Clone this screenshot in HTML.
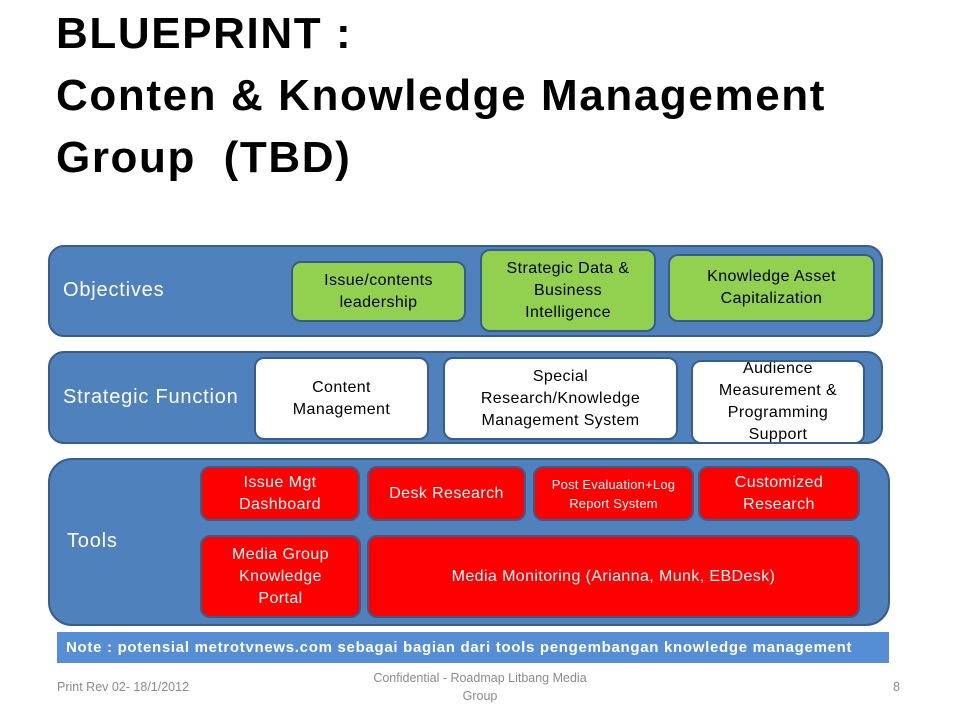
<!DOCTYPE html>
<html><head><meta charset="utf-8"><style>
body{margin:0;width:960px;height:720px;background:#fff;position:relative;overflow:hidden;font-family:"Liberation Sans",sans-serif}
.a{position:absolute;box-sizing:border-box}
.band{background:#4f81bd;border:2px solid #385d8a;border-radius:16px}
.lab{color:#fff;font-size:20px;letter-spacing:0.8px}
.bx{display:flex;align-items:center;justify-content:center;text-align:center;font-size:16px;letter-spacing:0.4px;line-height:22px;border:2px solid #385d8a;border-radius:10px;color:#000}
.g{background:#92d050}
.w{background:#fff}
.r{background:#ff0000;color:#fff}
</style></head><body>
<div class="a" style="left:56px;top:3px;font-size:44px;letter-spacing:1.6px;font-weight:bold;line-height:62px;color:#000;white-space:nowrap">BLUEPRINT :<br>Conten &amp; Knowledge Management<br>Group&nbsp; (TBD)</div>

<div class="a band" style="left:48px;top:245px;width:835px;height:92px"></div>
<div class="a lab" style="left:63px;top:279px">Objectives</div>
<div class="a bx g" style="left:291px;top:261px;width:175px;height:61px">Issue/contents<br>leadership</div>
<div class="a bx g" style="left:480px;top:249px;width:176px;height:83px">Strategic Data &amp;<br>Business<br>Intelligence</div>
<div class="a bx g" style="left:668px;top:254px;width:207px;height:68px">Knowledge Asset<br>Capitalization</div>

<div class="a band" style="left:48px;top:351px;width:835px;height:93px"></div>
<div class="a lab" style="left:63px;top:386px">Strategic Function</div>
<div class="a bx w" style="left:254px;top:357px;width:175px;height:83px">Content<br>Management</div>
<div class="a bx w" style="left:443px;top:357px;width:235px;height:83px">Special<br>Research/Knowledge<br>Management System</div>
<div class="a bx w" style="left:691px;top:360px;width:174px;height:84px;overflow:hidden">Audience<br>Measurement &amp;<br>Programming<br>Support</div>

<div class="a band" style="left:48px;top:458px;width:842px;height:168px;border-radius:24px"></div>
<div class="a lab" style="left:67px;top:530px">Tools</div>
<div class="a bx r" style="left:200px;top:466px;width:160px;height:55px">Issue Mgt<br>Dashboard</div>
<div class="a bx r" style="left:367px;top:466px;width:159px;height:55px">Desk Research</div>
<div class="a bx r" style="left:533px;top:466px;width:161px;height:55px;font-size:13px;letter-spacing:0.2px;line-height:19px">Post Evaluation+Log<br>Report System</div>
<div class="a bx r" style="left:698px;top:466px;width:162px;height:55px">Customized<br>Research</div>
<div class="a bx r" style="left:200px;top:535px;width:161px;height:83px">Media Group<br>Knowledge<br>Portal</div>
<div class="a bx r" style="left:367px;top:535px;width:493px;height:83px">Media Monitoring (Arianna, Munk, EBDesk)</div>

<div class="a" style="left:57px;top:632px;width:832px;height:31px;background:#558ed5;color:#fff;font-weight:bold;font-size:15px;letter-spacing:0.7px;line-height:31px;padding-left:9px;white-space:nowrap;overflow:hidden">Note : potensial metrotvnews.com sebagai bagian dari tools pengembangan knowledge management</div>

<div class="a" style="left:57px;top:680px;font-size:12.5px;color:#8c8c8c">Print Rev 02- 18/1/2012</div>
<div class="a" style="left:330px;top:669px;width:300px;text-align:center;font-size:12.5px;line-height:18px;color:#8c8c8c">Confidential - Roadmap Litbang Media<br>Group</div>
<div class="a" style="left:893px;top:680px;font-size:12.5px;color:#8c8c8c">8</div>
</body></html>
